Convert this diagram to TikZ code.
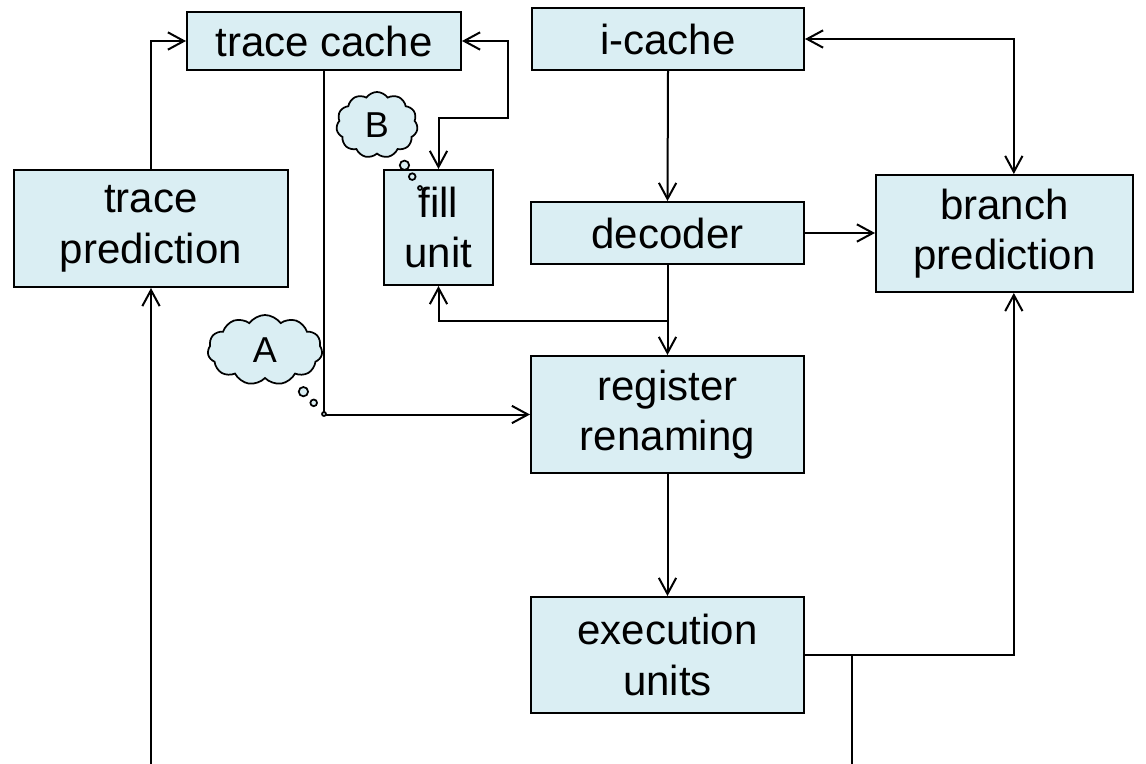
\documentclass[tikz,border=0pt]{standalone}
\usepackage{fontspec}
\setmainfont{Liberation Sans}
\usetikzlibrary{arrows.meta,shapes.symbols,shapes.callouts}
\definecolor{unitfill}{RGB}{218,238,243}
\tikzset{
  >={Straight Barb[length=12pt,width=13pt]},
  unit/.style={draw, fill=unitfill, line width=1.5pt, align=center, inner sep=0pt,
    font=\fontsize{31.5}{38}\selectfont},
  thought/.style={cloud callout, draw, fill=unitfill, line width=1.3pt, cloud puffs=11,
    cloud puff arc=110, aspect=1.6, inner sep=0pt, callout pointer segments=3,
    callout pointer start size=9pt, callout pointer end size=3pt,
    font=\fontsize{27}{32}\selectfont},
  link/.style={line width=1.5pt}
}
\begin{document}
\begin{tikzpicture}[x=0.75pt,y=-0.75pt]
\useasboundingbox (0,0) rectangle (1146,764);

\node[unit, minimum width=205.5pt, minimum height=43.5pt] (tc) at (324,41) {trace cache};
\node[unit, minimum width=204pt, minimum height=46.5pt] (ic) at (668,39) {i-cache};
\node[unit, minimum width=205.5pt, minimum height=87.75pt] (tp) at (151,228.5) {trace\\prediction};
\node[unit, minimum width=81.75pt, minimum height=86.25pt] (fu) at (438.5,227.5) {fill\\unit};
\node[unit, minimum width=204.75pt, minimum height=46.5pt] (dec) at (667.5,233) {decoder};
\node[unit, minimum width=192.75pt, minimum height=87.75pt] (bp) at (1004.5,233.5) {branch\\prediction};
\node[unit, minimum width=204.75pt, minimum height=87.75pt] (rr) at (667.5,414.5) {register\\renaming};
\node[unit, minimum width=204.75pt, minimum height=87pt] (eu) at (667.5,655) {execution\\units};

\coordinate (tpin) at (151,764);
\coordinate (tcfu) at (508,118);
\coordinate (split) at (667.5,321);
\coordinate (eujoin) at (852,655);
\coordinate (euout) at (852,764);

\draw[link,->] (tp.north) |- (tc.west);
\draw[link,->] (tpin) -- (tp.south);
\draw[link,->] (tc.south) |- (rr.west);
\draw[link,<->] (tc.east) -| (tcfu) -| (fu.north);
\draw[link,->] (ic.south) -- (dec.north);
\draw[link,<->] (ic.east) -| ([xshift=7pt]bp.north);
\draw[link,->] (dec.east) -- (dec.east -| bp.west);
\draw[link,->] (dec.south) -- (rr.north);
\draw[link,->] (split) -| (fu.south);
\draw[link,->] (rr.south) -- (eu.north);
\draw[link,->] (eu.east) -| ([xshift=7pt]bp.south);
\draw[link] (euout) -- (eujoin);

\coordinate (ptA) at (324,414);
\coordinate (ptB) at (420,188);
\node[thought, minimum width=86pt, minimum height=52.5pt, callout absolute pointer={(ptA)}] (thA) at (265,350) {A};
\node[thought, minimum width=61pt, minimum height=49.5pt, callout absolute pointer={(ptB)}] (thB) at (377,125) {B};
\end{tikzpicture}
\end{document}
